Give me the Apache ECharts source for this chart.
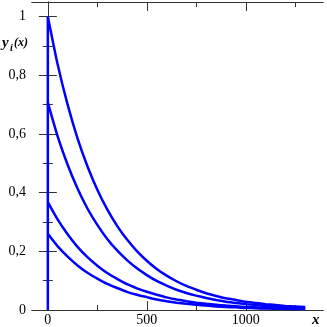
<!DOCTYPE html>
<html>
<head>
<meta charset="utf-8">
<script src="https://cdn.jsdelivr.net/npm/echarts@6/dist/echarts.min.js"></script>
<style>
  html, body { margin: 0; padding: 0; background: #fff; }
  #chart { width: 327px; height: 327px; }
</style>
</head>
<body>
<div id="chart"></div>
<script>
// sample positions along x
const xs = [0, 50, 100, 150, 200, 250, 300, 350, 400, 450, 500, 550, 600, 650, 700,
    750, 800, 850, 900, 950, 1000, 1050, 1100, 1150, 1200, 1250, 1300];
// four decaying curves, values read at the positions above
const y1 = [1.0, 0.836, 0.700, 0.585, 0.490, 0.410, 0.343, 0.287, 0.240, 0.201, 0.168, 0.140, 0.117, 0.098,
    0.082, 0.069, 0.057, 0.048, 0.040, 0.034, 0.028, 0.024, 0.020, 0.017, 0.014, 0.012, 0.010];
const y2 = [0.707, 0.591, 0.495, 0.414, 0.346, 0.290, 0.242, 0.203, 0.170, 0.142, 0.119, 0.099, 0.083, 0.069,
    0.058, 0.049, 0.041, 0.034, 0.028, 0.024, 0.020, 0.017, 0.014, 0.012, 0.010, 0.008, 0.007];
const y3 = [0.368, 0.308, 0.258, 0.215, 0.180, 0.151, 0.126, 0.106, 0.088, 0.074, 0.062, 0.052, 0.043, 0.036,
    0.030, 0.025, 0.021, 0.018, 0.015, 0.0125, 0.010, 0.009, 0.007, 0.006, 0.005, 0.004, 0.004];
const y4 = [0.26, 0.217, 0.182, 0.152, 0.127, 0.107, 0.089, 0.075, 0.062, 0.052, 0.044, 0.036, 0.030, 0.025,
    0.021, 0.018, 0.015, 0.012, 0.010, 0.009, 0.007, 0.006, 0.005, 0.004, 0.004, 0.003, 0.003];
// vertical jump at x = 0
const jumpX = [0, 0];
const jumpY = [0, 1];
const xTicks = [0, 500, 1000];
const xMinorTicks = [250, 750, 1250];

const font = 'serif';
const frameColor = '#333';
const blue = '#0000ff';

const pair = (a, b) => a.map((v, i) => [v, b[i]]);

let myChart = echarts.init(document.getElementById('chart'));

const xBase = {
    type: 'value',
    min: -80,
    max: 1390,
    splitLine: { show: false },
    axisLine: { show: true, lineStyle: { color: frameColor, width: 1 } }
};
const yBase = {
    type: 'value',
    min: 0,
    max: 1.05,
    interval: 0.2,
    splitLine: { show: false },
    axisLine: { show: true, lineStyle: { color: frameColor, width: 1 } },
    axisTick: { inside: true, length: 9, lineStyle: { color: frameColor } },
    minorTick: { show: true, splitNumber: 2, length: 5, lineStyle: { color: frameColor } }
};

let series = [];
[y1, y2, y3, y4].forEach((ys, i) => {
    series.push({
        name: 'y' + (i + 1),
        type: 'line',
        data: pair(xs, ys),
        smooth: 0.2,
        showSymbol: false,
        lineStyle: { color: blue, width: 2.5 }
    });
});
series.push({
    name: 'jump',
    type: 'line',
    data: pair(jumpX, jumpY),
    showSymbol: false,
    lineStyle: { color: blue, width: 2.5 }
});

let option = {
    animation: false,
    textStyle: { fontFamily: font },
    grid: { left: 32, right: 4, top: 2, bottom: 16 },
    xAxis: [
        Object.assign({}, xBase, {
            position: 'bottom',
            axisTick: { inside: true, length: 9, customValues: xTicks, lineStyle: { color: frameColor } },
            axisLabel: {
                customValues: xTicks, color: '#000', fontFamily: font, fontSize: 14, margin: 3,
                formatter: v => String(v)
            }
        }),
        Object.assign({}, xBase, {
            position: 'bottom',
            axisTick: { inside: true, length: 5, customValues: xMinorTicks, lineStyle: { color: frameColor } },
            axisLabel: { show: false }
        }),
        Object.assign({}, xBase, {
            position: 'top',
            axisTick: { inside: true, length: 9, customValues: xTicks, lineStyle: { color: frameColor } },
            axisLabel: { show: false }
        }),
        Object.assign({}, xBase, {
            position: 'top',
            axisTick: { inside: true, length: 5, customValues: xMinorTicks, lineStyle: { color: frameColor } },
            axisLabel: { show: false }
        })
    ],
    yAxis: [
        Object.assign({}, yBase, {
            position: 'left',
            axisLabel: {
                color: '#000', fontFamily: font, fontSize: 14, margin: 6, showMaxLabel: false,
                formatter: v => v > 1.01 ? '' : String(Math.round(v * 10) / 10).replace('.', ',')
            }
        }),
        Object.assign({}, yBase, {
            position: 'right',
            axisLabel: { show: false }
        })
    ],
    graphic: [
        { type: 'text', left: 2, top: 36, style: { text: 'y', fontFamily: font, fontWeight: 'bold', fontStyle: 'italic', fontSize: 15, fill: '#000' } },
        { type: 'text', left: 10, top: 43, style: { text: 'i', fontFamily: font, fontWeight: 'bold', fontStyle: 'italic', fontSize: 10, fill: '#000' } },
        { type: 'text', left: 14, top: 37, style: { text: '(x)', fontFamily: font, fontWeight: 'bold', fontStyle: 'italic', fontSize: 12, fill: '#000' } },
        { type: 'text', left: 312, top: 313, style: { text: 'x', fontFamily: font, fontWeight: 'bold', fontStyle: 'italic', fontSize: 15, fill: '#000' } }
    ],
    series
};

myChart.setOption(option, true);
window.addEventListener('resize', () => {
    myChart.resize();
});
</script>
</body>
</html>
